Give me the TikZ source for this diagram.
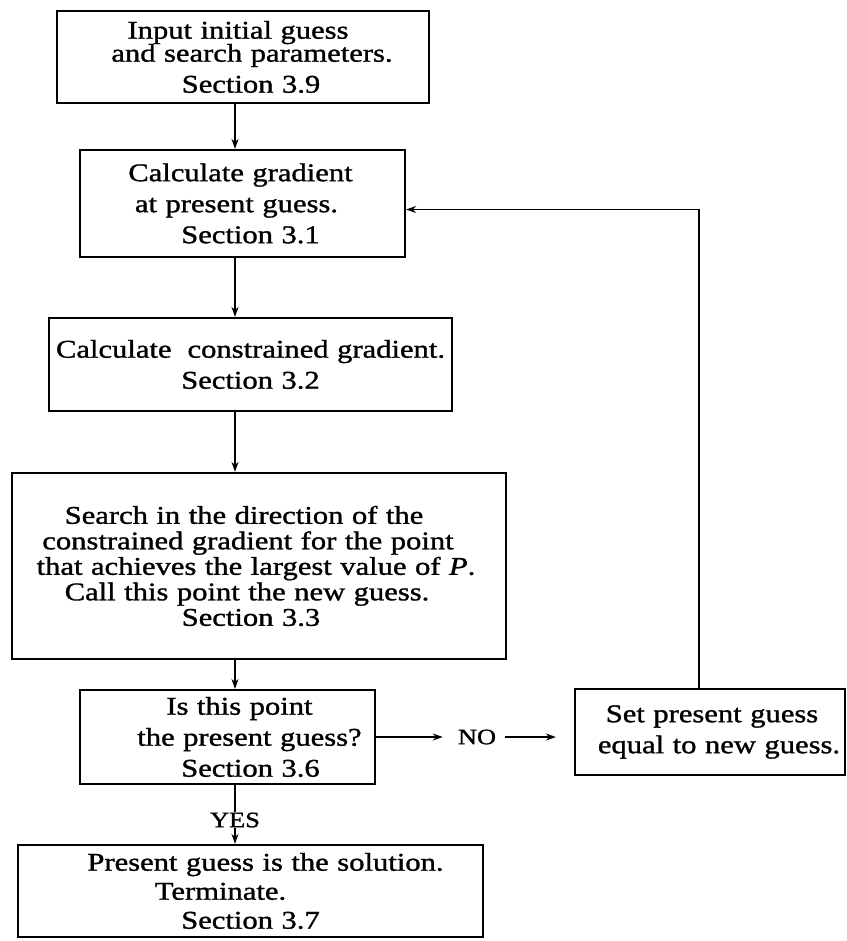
\documentclass[tikz,border=0pt]{standalone}
\usepackage{fontspec}
\setmainfont{Liberation Serif}[FakeStretch=1.2,FakeBold=1.2]
\usetikzlibrary{arrows.meta}
\begin{document}
\begin{tikzpicture}[x=1pt,y=-1pt,
  fc/.style={draw, line width=2.2pt, inner sep=0pt, align=center,
    font=\fontsize{25.5}{31}\selectfont},
  arr/.style={line width=1.9pt, -{Stealth[length=10pt,width=7pt]}},
  plain/.style={line width=1.9pt},
  lbl/.style={font=\fontsize{22}{22}\selectfont, inner sep=0pt, fill=white}]
\useasboundingbox[fill=white] (0,0) rectangle (846,941);
\coordinate (spine) at (235,0);
% boxes
\node[fc, minimum width=372pt, minimum height=92pt, text width=372pt] (b1) at (243,57)
  {Input initial guess\kern10pt\\[-8pt]
   \hspace*{18pt}and search parameters.\\
   \hspace*{16pt}Section 3.9};
\node[fc, minimum width=325pt, minimum height=107pt, text width=325pt] (b2) at (242.5,203.5)
  {Calculate gradient\kern4pt\\
   at present guess.\kern12pt\\
   \hspace*{16pt}Section 3.1};
\node[fc, minimum width=403pt, minimum height=93pt, text width=403pt] (b3) at (250.5,364.5)
  {Calculate\hspace{16pt}constrained gradient.\\
   Section 3.2};
\node[fc, minimum width=494pt, minimum height=186pt, text width=494pt,
  font=\fontsize{25.5}{25.5}\selectfont] (b4) at (259,566)
  {Search in the direction of the\kern30pt\\
   constrained gradient for the point\kern22pt\\
   that achieves the largest value of \textit{P}.\kern6pt\\
   Call this point the new guess.\kern24pt\\
   Section 3.3\kern16pt};
\node[fc, minimum width=295pt, minimum height=94pt, text width=295pt] (b5) at (227.5,737)
  {\hspace*{24pt}Is this point\\
   \hspace*{44pt}the present guess?\\
   \hspace*{46pt}Section 3.6};
\node[fc, minimum width=270pt, minimum height=86pt, text width=270pt] (b6) at (710,732)
  {\hspace*{4pt}Set present guess\\
   \hspace*{18pt}equal to new guess.};
\node[fc, minimum width=465pt, minimum height=92pt, text width=465pt,
  font=\fontsize{25.5}{29}\selectfont] (b7) at (250.5,891)
  {\hspace*{30pt}Present guess is the solution.\\
   Terminate.\kern60pt\\
   Section 3.7};
% labels
\node[lbl] (yes) at (235,820) {YES};
\node[lbl] (no) at (477,737) {NO};
% connectors
\draw[arr] (b1.south -| spine) -- (b2.north -| spine);
\draw[arr] (b2.south -| spine) -- (b3.north -| spine);
\draw[arr] (b3.south -| spine) -- (b4.north -| spine);
\draw[arr] (b4.south -| spine) -- (b5.north -| spine);
\draw[plain] (b5.south -| spine) -- (yes.north);
\draw[arr] (yes.south) -- (b7.north -| spine);
\draw[arr, shorten >=15pt] (b5.east) -- (b5.east -| no.west);
\draw[arr, shorten <=9pt, shorten >=18pt] (no.east) -- (no.east -| b6.west);
\draw[arr] ([xshift=-11pt]b6.north) |- ([yshift=-6pt]b2.east);
\end{tikzpicture}
\end{document}
